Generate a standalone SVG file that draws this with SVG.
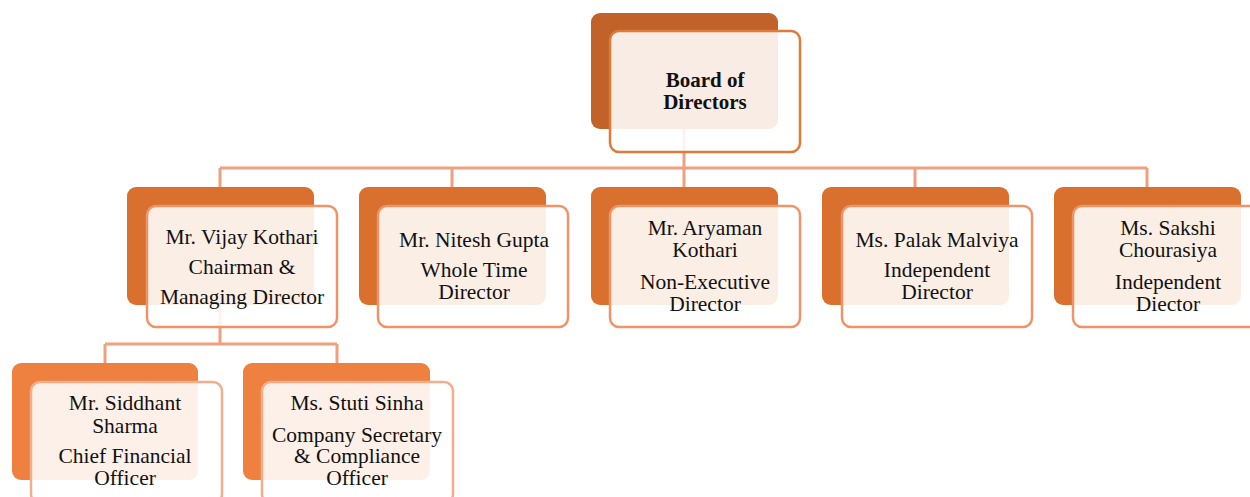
<svg xmlns="http://www.w3.org/2000/svg" width="1250" height="497" viewBox="0 0 1250 497">
<style>
text{font-family:"Liberation Serif","Times New Roman",serif;font-size:21.5px;fill:#111;text-anchor:middle}
.b{font-weight:bold;font-size:21px}
.l1{fill:#C0622A}
.l2{fill:#D9702E}
.l3{fill:#EE8040}
.f{fill:#fff;fill-opacity:0.88;stroke-width:2.5}
.f1{stroke:#E07A3A}
.f2{stroke:#EE9468}
.f3{stroke:#F2AE8C}
.c{fill:none;stroke:#F0A07E;stroke-width:3}
</style>
<g id="connectors">
<path class="c" d="M684 129V168M220 168H1147M220 168V188M452 168V188M684 168V188M915 168V188M1147 168V188"/>
<path class="c" d="M220 305V344M105 344H337M105 344V363M337 344V363"/>
</g>
<g id="board">
<rect class="l1" x="591" y="13" width="187" height="116" rx="9"/>
<rect class="f f1" x="610" y="31" width="190" height="121" rx="9"/>
<text class="b" x="705" y="87">Board of</text>
<text class="b" x="705" y="109">Directors</text>
</g>
<g id="vijay">
<rect class="l2" x="127" y="187" width="187" height="118" rx="9"/>
<rect class="f f2" x="147" y="206" width="190" height="121" rx="9"/>
<text x="242" y="244">Mr. Vijay Kothari</text>
<text x="242" y="274">Chairman &amp;</text>
<text x="242" y="304">Managing Director</text>
</g>
<g id="nitesh">
<rect class="l2" x="359" y="187" width="187" height="118" rx="9"/>
<rect class="f f2" x="378" y="206" width="190" height="121" rx="9"/>
<text x="474" y="247">Mr. Nitesh Gupta</text>
<text x="474" y="277">Whole Time</text>
<text x="474" y="299">Director</text>
</g>
<g id="aryaman">
<rect class="l2" x="591" y="187" width="187" height="118" rx="9"/>
<rect class="f f2" x="610" y="206" width="190" height="121" rx="9"/>
<text x="705" y="235">Mr. Aryaman</text>
<text x="705" y="257">Kothari</text>
<text x="705" y="289">Non-Executive</text>
<text x="705" y="311">Director</text>
</g>
<g id="palak">
<rect class="l2" x="822" y="187" width="187" height="118" rx="9"/>
<rect class="f f2" x="842" y="206" width="190" height="121" rx="9"/>
<text x="937" y="247">Ms. Palak Malviya</text>
<text x="937" y="277">Independent</text>
<text x="937" y="299">Director</text>
</g>
<g id="sakshi">
<rect class="l2" x="1054" y="187" width="187" height="118" rx="9"/>
<rect class="f f2" x="1073" y="206" width="190" height="121" rx="9"/>
<text x="1168" y="235">Ms. Sakshi</text>
<text x="1168" y="257">Chourasiya</text>
<text x="1168" y="289">Independent</text>
<text x="1168" y="311">Diector</text>
</g>
<g id="siddhant">
<rect class="l3" x="12" y="363" width="186" height="117" rx="9"/>
<rect class="f f3" x="31" y="382" width="191" height="121" rx="9"/>
<text x="125" y="410">Mr. Siddhant</text>
<text x="125" y="433">Sharma</text>
<text x="125" y="463">Chief Financial</text>
<text x="125" y="485">Officer</text>
</g>
<g id="stuti">
<rect class="l3" x="243" y="363" width="187" height="117" rx="9"/>
<rect class="f f3" x="262" y="382" width="191" height="121" rx="9"/>
<text x="357" y="410">Ms. Stuti Sinha</text>
<text x="357" y="442">Company Secretary</text>
<text x="357" y="463">&amp; Compliance</text>
<text x="357" y="485">Officer</text>
</g>
</svg>
